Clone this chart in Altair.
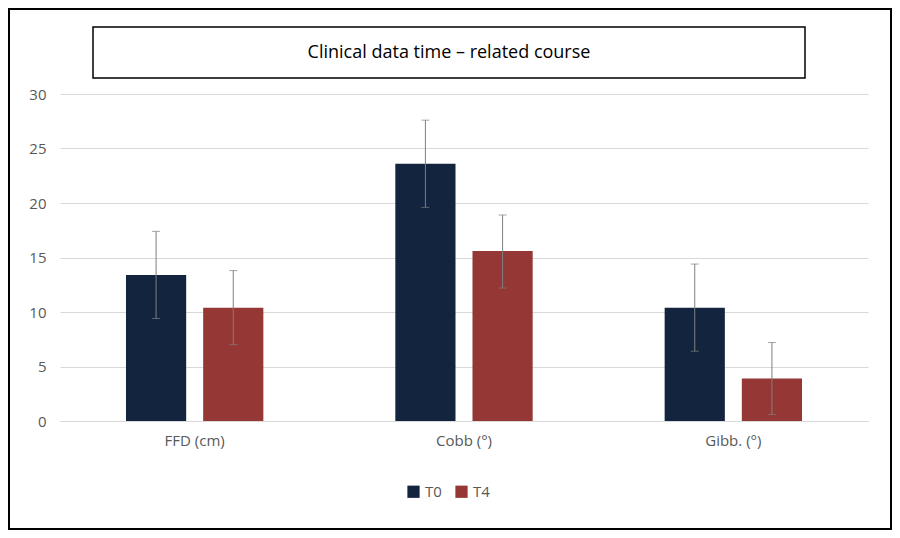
import altair as alt
import pandas as pd

categories = ["FFD (cm)", "Cobb (°)", "Gibb. (°)"]
series = ["T0", "T4"]
t0_values = [13.4, 23.6, 10.4]
t4_values = [10.4, 15.6, 3.9]
t0_err_lo = [9.4, 19.6, 6.4]
t0_err_hi = [17.4, 27.6, 14.4]
t4_err_lo = [7.0, 12.2, 0.6]
t4_err_hi = [13.8, 18.9, 7.2]

rows = []
for i, c in enumerate(categories):
    rows.append(dict(cat=c, s="T0", v=t0_values[i], lo=t0_err_lo[i], hi=t0_err_hi[i]))
    rows.append(dict(cat=c, s="T4", v=t4_values[i], lo=t4_err_lo[i], hi=t4_err_hi[i]))
df = pd.DataFrame(rows)

x = alt.X("cat:N", sort=categories, title=None,
          scale=alt.Scale(paddingInner=0.49, paddingOuter=0.245),
          axis=alt.Axis(labelAngle=0, labelFontSize=15, labelColor="#595959", labelPadding=12,
                        domainColor="#d9d9d9", ticks=False, labelFont="Open Sans"))
xo = alt.XOffset("s:N", scale=alt.Scale(paddingInner=0.22, paddingOuter=0))
color = alt.Color("s:N", scale=alt.Scale(domain=series, range=["#13243f", "#953735"]),
                  legend=alt.Legend(title=None, orient="none", legendX=346, legendY=390, direction="horizontal",
                                    symbolType="square", symbolSize=150, labelFontSize=15,
                                    labelColor="#595959", labelFont="Open Sans", columnPadding=12))
y = alt.Y("v:Q", title=None,
          scale=alt.Scale(domain=[0, 30]),
          axis=alt.Axis(values=[0, 5, 10, 15, 20, 25, 30], labelFontSize=15, labelColor="#595959",
                        domain=False, ticks=False, gridColor="#d9d9d9", labelPadding=14, labelFont="Open Sans"))

base = alt.Chart(df)
bars = base.mark_bar().encode(x=x, xOffset=xo, y=y, color=color)
rules = base.mark_rule(color="#7f7f7f", strokeWidth=1).encode(x=x, xOffset=xo, y="lo:Q", y2="hi:Q")
cap_lo = base.mark_tick(color="#7f7f7f", size=8, thickness=1, orient="horizontal").encode(x=x, xOffset=xo, y="lo:Q")
cap_hi = base.mark_tick(color="#7f7f7f", size=8, thickness=1, orient="horizontal").encode(x=x, xOffset=xo, y="hi:Q")

deco = pd.DataFrame([{"t": "Clinical data time – related course"}])
title_box = alt.Chart(deco).mark_rect(fill="white", stroke="black", strokeWidth=1.5, clip=False).encode(
    x=alt.value(33), x2=alt.value(745), y=alt.value(-67), y2=alt.value(-16))
title_text = alt.Chart(deco).mark_text(fontSize=18, color="black", font="Open Sans", clip=False).encode(
    text="t:N", x=alt.value(389), y=alt.value(-41))
border = alt.Chart(deco).mark_rect(fill=None, stroke="black", strokeWidth=2, clip=False).encode(
    x=alt.value(-51), x2=alt.value(831), y=alt.value(-85), y2=alt.value(435))

chart = alt.layer(border, bars, rules, cap_lo, cap_hi, title_box, title_text).properties(
    width=808, height=327, padding={"left": 52, "top": 86, "right": 24, "bottom": 109},
    autosize=alt.AutoSizeParams(type="none")
).configure_view(stroke=None)

chart.save("out.html", embed_options={"renderer": "svg", "actions": False})
